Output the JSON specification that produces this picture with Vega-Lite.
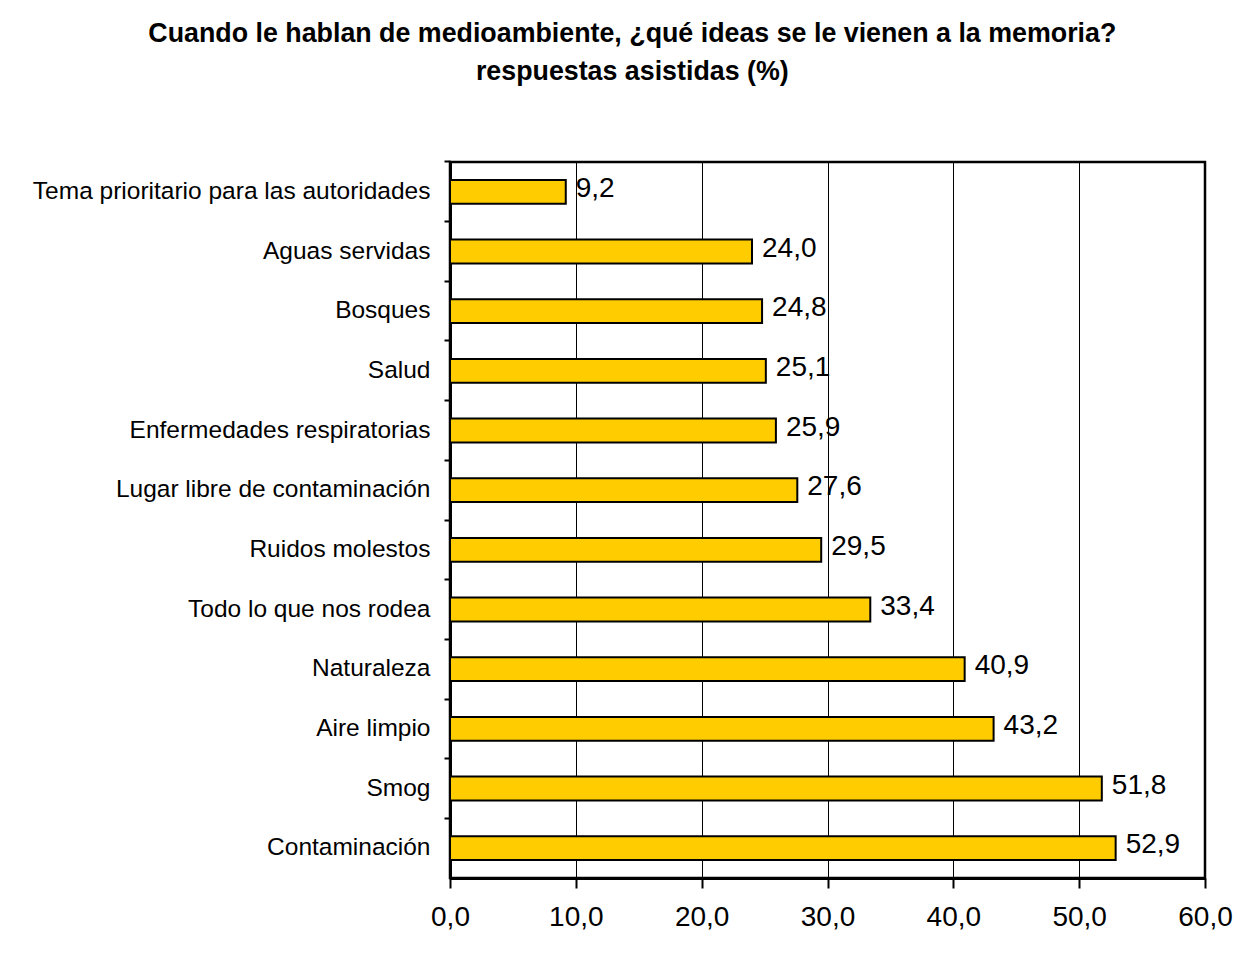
{
  "$schema": "https://vega.github.io/schema/vega-lite/v6.json",
  "width": 755,
  "height": 716,
  "autosize": {"type": "none"},
  "padding": {"left": 450, "top": 162, "right": 44, "bottom": 75},
  "background": "white",
  "config": {
    "locale": {"number": {"decimal": ",", "thousands": ".", "grouping": [3], "currency": ["", " €"]}},
    "font": "Liberation Sans",
    "view": {"stroke": "black", "strokeWidth": 2.5},
    "axis": {"labelFont": "Liberation Sans", "labelColor": "black", "domainColor": "black", "tickColor": "black"}
  },
  "title": {
    "text": ["Cuando le hablan de medioambiente, ¿qué ideas se le vienen a la memoria?", "respuestas asistidas (%)"],
    "font": "Liberation Sans",
    "fontSize": 26.8,
    "fontWeight": "bold",
    "color": "black",
    "anchor": "middle",
    "frame": "bounds",
    "offset": 74,
    "lineHeight": 38
  },
  "data": {
    "values": [
      {"idea": "Tema prioritario para las autoridades", "v": 9.2},
      {"idea": "Aguas servidas", "v": 24.0},
      {"idea": "Bosques", "v": 24.8},
      {"idea": "Salud", "v": 25.1},
      {"idea": "Enfermedades respiratorias", "v": 25.9},
      {"idea": "Lugar libre de contaminación", "v": 27.6},
      {"idea": "Ruidos molestos", "v": 29.5},
      {"idea": "Todo lo que nos rodea", "v": 33.4},
      {"idea": "Naturaleza", "v": 40.9},
      {"idea": "Aire limpio", "v": 43.2},
      {"idea": "Smog", "v": 51.8},
      {"idea": "Contaminación", "v": 52.9}
    ]
  },
  "encoding": {
    "y": {
      "field": "idea",
      "type": "nominal",
      "sort": null,
      "scale": {"paddingInner": 0.6, "paddingOuter": 0.3},
      "axis": {
        "title": null,
        "labelFontSize": 24.5,
        "labelPadding": 14,
        "tickSize": 6,
        "tickWidth": 2,
        "domainWidth": 3,
        "bandPosition": -0.75,
        "labelLimit": 500
      }
    },
    "x": {
      "field": "v",
      "type": "quantitative",
      "scale": {"domain": [0, 60], "nice": false},
      "axis": {
        "title": null,
        "values": [0, 10, 20, 30, 40, 50, 60],
        "format": ".1f",
        "grid": true,
        "gridColor": "black",
        "gridWidth": 1,
        "gridOpacity": 1,
        "labelFontSize": 28,
        "labelFlush": false,
        "labelPadding": 15,
        "tickSize": 10,
        "tickWidth": 2,
        "domainWidth": 3
      }
    }
  },
  "layer": [
    {"mark": {"type": "bar", "fill": "#FFCC00", "stroke": "black", "strokeWidth": 2}},
    {
      "mark": {"type": "text", "align": "left", "baseline": "middle", "dx": 10, "dy": -3, "fontSize": 28, "font": "Liberation Sans", "color": "black"},
      "encoding": {"text": {"field": "v", "type": "quantitative", "format": ".1f"}}
    }
  ]
}
